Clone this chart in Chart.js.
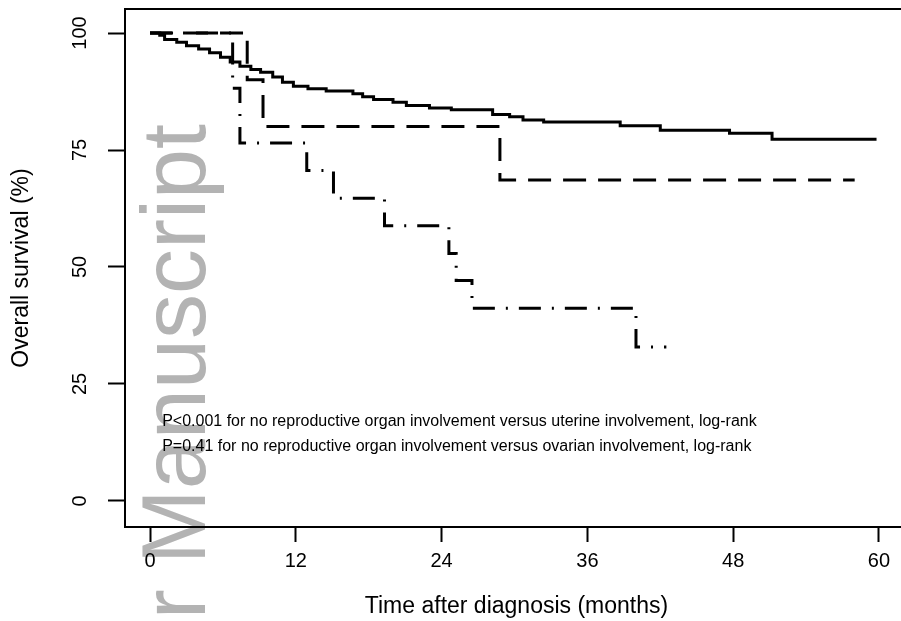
<!DOCTYPE html>
<html>
<head>
<meta charset="utf-8">
<script src="https://cdn.jsdelivr.net/npm/chart.js@4"></script>
<style>
html, body { margin: 0; padding: 0; background: #fff; overflow: hidden; }
canvas { display: block; }
</style>
</head>
<body>
<canvas id="km" width="910" height="621"></canvas>
<script>
const xTicks = [0, 12, 24, 36, 48, 60]
const yTicks = [0, 25, 50, 75, 100]

// sem envolvimento de orgao reprodutivo (linha continua)
const noneTime = [0, 0.8, 1.2, 2.2, 3.0, 4.0, 4.9, 5.8, 6.6, 7.4, 8.3, 9.1, 10.1, 10.9, 11.8, 13.0, 14.5, 16.7, 17.5, 18.4, 20.0, 21.1, 23.0, 24.8, 28.2, 29.6, 30.7, 32.4, 38.7, 42.0, 47.7, 51.2, 59.8]
const noneSurv = [100, 99.5, 98.6, 98.0, 97.3, 96.6, 95.8, 94.8, 93.8, 92.9, 92.2, 91.6, 90.6, 89.5, 88.6, 88.1, 87.6, 87.0, 86.4, 85.8, 85.2, 84.5, 84.0, 83.6, 82.6, 82.1, 81.4, 81.0, 80.2, 79.2, 78.6, 77.3, 77.3]

// ovariano (tracejada)
const ovaTime = [0, 8.0, 9.3, 28.8, 58.0]
const ovaSurv = [100, 90.0, 80.0, 68.6, 68.6]

// uterino (traco-ponto)
const uteTime = [0, 6.8, 7.4, 12.9, 15.1, 19.3, 24.6, 25.2, 26.5, 40.0, 42.5]
const uteSurv = [100, 88.2, 76.5, 70.6, 64.7, 58.8, 52.9, 47.1, 41.2, 32.9, 32.9]

const pNotes = [
    'P<0.001 for no reproductive organ involvement versus uterine involvement, log-rank',
    'P=0.41 for no reproductive organ involvement versus ovarian involvement, log-rank'
]

const fonte = "'Liberation Sans', Arial, sans-serif"

function pontos(tempos, valores) {
    return tempos.map((t, i) => ({ x: t, y: valores[i] }))
}

const fundo = {
    id: 'fundo',
    beforeDraw(chart) {
        const ctx = chart.ctx
        ctx.save()
        ctx.fillStyle = '#fff'
        ctx.fillRect(0, 0, chart.width, chart.height)
        // marca d'agua
        ctx.translate(205, 124)
        ctx.rotate(-Math.PI / 2)
        ctx.font = '90px ' + fonte
        ctx.fillStyle = '#b3b3b3'
        ctx.textAlign = 'right'
        ctx.textBaseline = 'alphabetic'
        ctx.fillText('Author Manuscript', 0, 0)
        ctx.restore()
    },
    afterDraw(chart) {
        const ctx = chart.ctx
        const a = chart.chartArea
        const sx = chart.scales.x
        const sy = chart.scales.y
        ctx.save()
        ctx.strokeStyle = '#000'
        ctx.lineWidth = 2
        ctx.strokeRect(a.left, a.top, a.right - a.left, a.bottom - a.top)
        ctx.fillStyle = '#000'
        ctx.font = '16px ' + fonte
        ctx.textAlign = 'left'
        ctx.textBaseline = 'middle'
        ctx.fillText(pNotes[0], sx.getPixelForValue(1), sy.getPixelForValue(17))
        ctx.fillText(pNotes[1], sx.getPixelForValue(1), sy.getPixelForValue(11.6))
        ctx.restore()
    }
}

const data = {
    datasets: [
        {
            label: 'None',
            data: pontos(noneTime, noneSurv),
            stepped: true,
            borderColor: '#000',
            borderWidth: 3,
            pointRadius: 0,
        },
        {
            label: 'Ovarian',
            data: pontos(ovaTime, ovaSurv),
            stepped: true,
            borderColor: '#000',
            borderWidth: 3,
            borderDash: [23, 12],
            pointRadius: 0,
        },
        {
            label: 'Uterine',
            data: pontos(uteTime, uteSurv),
            stepped: true,
            borderColor: '#000',
            borderWidth: 3,
            borderDash: [22, 11, 2, 11],
            pointRadius: 0,
        },
    ]
}

const config = {
    type: 'line',
    data: data,
    options: {
        responsive: false,
        animation: false,
        layout: { padding: { left: 0, top: 9, right: 2, bottom: 0 } },
        plugins: { legend: { display: false }, tooltip: { enabled: false } },
        scales: {
            x: {
                type: 'linear',
                min: -2.06,
                max: 62.39,
                afterBuildTicks: s => { s.ticks = xTicks.map(v => ({ value: v })) },
                afterFit: s => { s.height = 94; s.paddingLeft = 0; s.paddingRight = 0 },
                grid: { drawOnChartArea: false, drawTicks: true, tickLength: 15, tickWidth: 2, tickColor: '#000' },
                border: { display: false },
                ticks: { maxRotation: 0, padding: 7, color: '#000', font: { family: fonte, size: 20 } },
                title: { display: true, text: 'Time after diagnosis (months)', color: '#000', font: { family: fonte, size: 23 }, padding: { top: 0, bottom: 1 } }
            },
            y: {
                min: -5.56,
                max: 105.13,
                afterBuildTicks: s => { s.ticks = yTicks.map(v => ({ value: v })) },
                afterFit: s => { s.width = 125; s.paddingTop = 0; s.paddingBottom = 0 },
                grid: { drawOnChartArea: false, drawTicks: true, tickLength: 17, tickWidth: 2, tickColor: '#000' },
                border: { display: false },
                ticks: { minRotation: 90, maxRotation: 90, crossAlign: 'center', padding: 11, color: '#000', font: { family: fonte, size: 20 } },
                title: { display: true, text: 'Overall survival (%)', color: '#000', font: { family: fonte, size: 23 }, padding: { top: 8, bottom: 0 } }
            }
        }
    },
    plugins: [fundo]
}

const grafico = new Chart(document.getElementById('km'), config)
</script>
</body>
</html>
